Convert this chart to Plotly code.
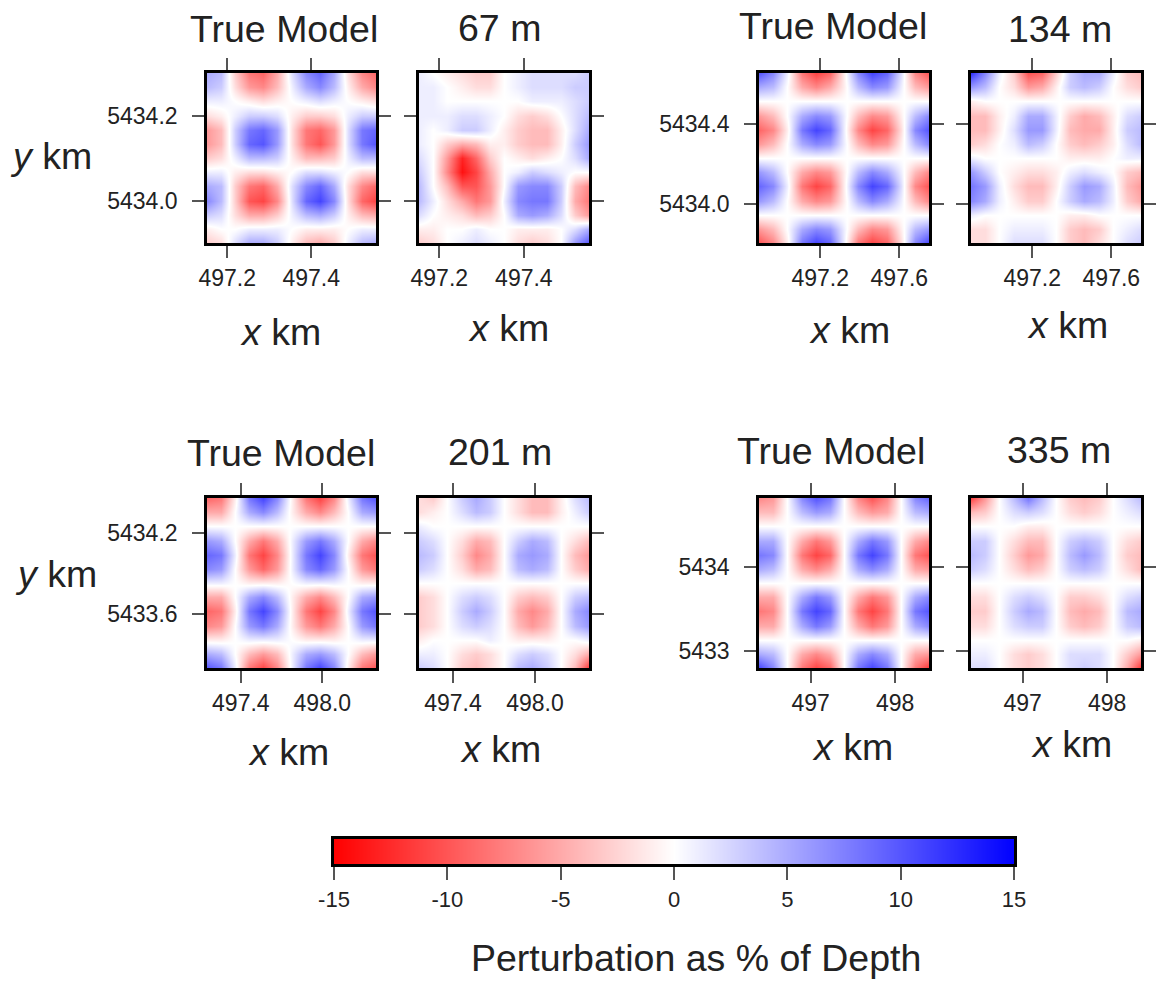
import numpy as np
import plotly.graph_objects as go

W, H = 1157, 981
FONT = "Liberation Sans, Arial, Helvetica, sans-serif"
TXT = "#222222"

# Values are % perturbation (blue positive, red negative), top row first.
true_67 = [
 [5,4,-3,-8,-9,-5,2,7,9,5,-2,-7,-9],
 [4,3,-2,-6,-7,-4,1,5,7,4,-1,-5,-7],
 [1,1,0,-1,-2,-1,0,1,2,1,0,-1,-2],
 [-2,-1,1,3,3,2,-1,-3,-3,-2,1,3,3],
 [-6,-4,3,8,9,6,-2,-8,-9,-6,2,8,9],
 [-6,-4,3,9,10,6,-2,-8,-10,-6,2,8,10],
 [-3,-2,1,4,4,3,-1,-4,-4,-3,1,4,4],
 [1,1,-1,-2,-2,-1,0,2,2,1,0,-2,-2],
 [5,4,-3,-8,-9,-5,2,7,9,5,-2,-7,-9],
 [7,4,-3,-10,-11,-7,2,9,11,7,-2,-9,-11],
 [3,2,-2,-5,-5,-3,1,4,5,3,-1,-4,-5],
 [-1,0,0,1,1,1,0,-1,-1,-1,0,1,1],
 [-3,-2,2,5,5,3,-1,-4,-5,-3,1,4,5],
]
est_67 = [
 [1,0,-1,-2,-3,-3,0,1,2,2,2,2,3],
 [1,1,0,-1,-2,-2,0,1,2,2,2,3,3],
 [1,1,0,0,0,0,0,0,1,1,1,2,3],
 [1,1,1,2,2,1,0,-2,-3,-2,0,2,4],
 [1,0,1,3,3,1,-1,-3,-4,-4,-1,2,5],
 [1,0,-3,-5,-4,-1,-1,-3,-4,-4,-1,3,6],
 [2,0,-6,-13,-9,-3,0,-1,-2,-1,0,2,5],
 [3,0,-7,-14,-11,-5,0,1,3,2,1,0,0],
 [4,0,-4,-10,-10,-6,0,6,7,7,3,-4,-7],
 [4,1,-2,-5,-8,-6,1,7,8,8,3,-5,-8],
 [2,0,-1,-2,-4,-3,0,5,6,5,2,-3,-6],
 [-1,-1,0,0,1,0,0,-1,-1,-1,0,2,5],
 [-3,-2,0,1,2,1,0,-2,-3,-2,0,6,10],
]
true_134 = [
 [10,7,1,-8,-11,-9,-1,7,11,9,2,-7,-10],
 [5,4,0,-5,-7,-5,-1,4,7,6,1,-4,-6],
 [0,0,0,0,0,0,0,0,0,0,0,0,0],
 [-6,-4,0,5,7,6,1,-4,-7,-6,-1,4,7],
 [-9,-7,-1,8,11,9,1,-7,-11,-9,-2,7,10],
 [-6,-4,0,5,7,6,1,-4,-7,-6,-1,4,7],
 [0,0,0,0,0,0,0,0,0,0,0,0,0],
 [6,4,0,-5,-7,-6,-1,4,7,5,1,-4,-7],
 [9,7,1,-8,-11,-9,-1,7,11,9,2,-7,-10],
 [6,4,0,-5,-7,-6,-1,4,7,5,1,-4,-7],
 [0,0,0,0,0,0,0,0,0,0,0,0,0],
 [-6,-4,0,5,7,6,1,-4,-7,-6,-1,4,6],
 [-10,-7,-1,8,11,9,1,-8,-11,-9,-2,7,11],
]
est_134 = [
 [12,7,1,-3,-10,-9,-3,3,5,5,1,-3,-4],
 [6,4,0,-2,-6,-5,-1,3,4,3,0,-2,-3],
 [-1,0,0,0,0,0,0,0,0,0,0,0,0],
 [-4,-4,-1,1,5,5,1,-3,-5,-4,-1,2,3],
 [-4,-4,-1,2,6,6,1,-4,-5,-5,-1,3,4],
 [-3,-2,0,1,4,3,0,-3,-4,-3,-1,2,4],
 [1,0,0,0,0,0,0,-1,-1,-1,0,1,1],
 [6,3,0,-1,-2,-2,-1,1,2,1,0,-3,-4],
 [8,6,1,-2,-4,-4,-1,3,6,5,1,-4,-6],
 [7,5,1,-1,-3,-3,0,3,5,4,1,-3,-5],
 [1,0,0,0,0,0,0,-1,-1,0,0,0,0],
 [-2,-2,0,1,1,1,0,-3,-4,-3,0,1,2],
 [-2,-2,0,2,2,2,0,-3,-4,-2,0,2,3],
]
true_201 = [
 [-9,-8,-1,8,11,7,-1,-8,-11,-7,1,8,10],
 [-5,-5,0,5,7,4,-1,-5,-7,-4,0,5,6],
 [0,0,0,0,0,0,0,0,0,0,0,0,0],
 [6,5,0,-5,-8,-5,1,6,8,5,0,-5,-7],
 [9,8,1,-8,-11,-7,1,8,11,7,-1,-8,-10],
 [7,6,0,-6,-9,-6,1,7,9,6,0,-6,-8],
 [1,1,0,-1,-1,-1,0,1,1,1,0,-1,-1],
 [-5,-5,0,5,7,4,-1,-5,-7,-4,0,5,6],
 [-9,-8,-1,8,11,7,-1,-8,-11,-7,1,8,10],
 [-7,-6,0,6,8,5,-1,-6,-8,-5,0,6,8],
 [-1,-1,0,1,1,1,0,-1,-1,-1,0,1,1],
 [5,4,0,-4,-6,-4,1,5,6,4,0,-4,-6],
 [10,8,1,-8,-11,-7,1,8,11,7,-1,-8,-10],
]
est_201 = [
 [-2,-3,0,3,5,3,0,-2,-4,-4,-1,2,4],
 [-2,-1,0,2,4,3,0,-2,-4,-4,-1,1,3],
 [1,0,0,0,0,0,0,0,0,0,0,0,0],
 [3,2,0,-2,-5,-4,0,3,5,4,0,-2,-4],
 [4,3,0,-3,-7,-5,0,5,6,5,0,-4,-6],
 [3,2,0,-2,-5,-4,0,4,5,4,0,-3,-5],
 [0,0,0,0,0,0,0,0,0,0,0,0,0],
 [-3,-2,0,2,3,2,0,-3,-4,-3,0,3,4],
 [-3,-2,0,3,5,3,0,-5,-7,-5,0,5,7],
 [-3,-2,0,2,3,2,0,-4,-6,-4,0,4,6],
 [-1,0,0,0,0,1,0,-1,-1,-1,0,0,1],
 [1,1,0,-2,-3,-2,0,2,3,2,0,-2,-5],
 [3,2,0,-3,-4,-2,0,4,5,3,0,-4,-12],
]
true_335 = [
 [-7,-6,0,7,10,8,0,-7,-10,-7,0,7,9],
 [-4,-4,0,4,6,5,0,-4,-6,-5,0,4,5],
 [0,0,0,0,0,0,0,0,0,0,0,0,0],
 [5,5,0,-5,-8,-6,0,5,8,6,0,-5,-7],
 [8,7,0,-8,-11,-9,0,8,11,8,0,-8,-10],
 [5,4,0,-5,-7,-5,0,5,7,5,0,-5,-6],
 [0,0,0,0,0,0,0,0,0,0,0,0,0],
 [-5,-5,0,5,8,6,0,-5,-8,-6,0,5,7],
 [-8,-7,0,8,11,9,0,-8,-11,-8,0,8,10],
 [-5,-5,0,5,8,6,0,-5,-8,-6,0,5,7],
 [0,0,0,0,0,0,0,0,0,0,0,0,0],
 [5,4,0,-5,-7,-5,0,5,7,5,0,-5,-6],
 [11,7,0,-8,-11,-9,0,8,11,8,0,-8,-12],
]
est_335 = [
 [-11,-6,0,4,8,4,0,-3,-4,-3,0,2,4],
 [-4,-3,0,2,3,2,0,-2,-3,-2,0,1,2],
 [0,0,0,0,-1,-1,0,0,0,0,0,0,0],
 [3,3,0,-2,-4,-4,0,3,4,3,0,-2,-3],
 [4,3,0,-3,-6,-5,0,4,6,4,0,-3,-4],
 [3,2,0,-2,-4,-3,0,3,4,3,0,-2,-4],
 [0,0,0,0,0,0,0,0,0,0,0,0,0],
 [-2,-2,0,2,3,2,0,-3,-3,-2,0,2,3],
 [-3,-3,0,3,5,4,0,-4,-5,-4,0,4,5],
 [-2,-2,0,2,3,3,0,-3,-4,-3,0,3,4],
 [0,0,0,0,0,0,0,0,0,0,0,0,-1],
 [1,1,0,-2,-3,-2,0,2,2,2,0,-3,-6],
 [2,2,0,-2,-3,-2,0,2,3,2,0,-5,-12],
]

colorbar_ticks = [-15, -10, -5, 0, 5, 10, 15]
titles = ["True Model", "67 m", "True Model", "134 m", "True Model", "201 m", "True Model", "335 m"]

# z, x range, y range, x ticks, y ticks, y tick labels shown?, box in pixels (l, r, t, b)
panels = [
 (true_67,  (497.152,497.554),(5433.9, 5434.3),   ["497.2","497.4"], ["5434.0","5434.2"], True,  (207,376,73,243)),
 (est_67,   (497.152,497.554),(5433.9, 5434.3),   ["497.2","497.4"], ["5434.0","5434.2"], False, (419,589,73,243)),
 (true_134, (496.89, 497.75), (5433.805,5434.655),["497.2","497.6"], ["5434.0","5434.4"], True,  (759,929,73,243)),
 (est_134,  (496.89, 497.75), (5433.805,5434.655),["497.2","497.6"], ["5434.0","5434.4"], False, (971,1141,73,243)),
 (true_201, (497.151,498.395),(5433.205,5434.456),["497.4","498.0"], ["5433.6","5434.2"], True,  (207,376,498,668)),
 (est_201,  (497.151,498.395),(5433.205,5434.456),["497.4","498.0"], ["5433.6","5434.2"], False, (419,589,498,668)),
 (true_335, (496.388,498.4),  (5432.8,5434.812),  ["497","498"],     ["5433","5434"],     True,  (759,929,498,668)),
 (est_335,  (496.388,498.4),  (5432.8,5434.812),  ["497","498"],     ["5433","5434"],     False, (971,1141,498,668)),
]

title_pos = [(284,29),(499,28),(833,26),(1060,29),(281,453),(500,452),(831,451),(1059,450)]
xlabel_pos = [(280,332),(508,328),(849,330),(1067,325),(288,752),(500,749),(852,747),(1071,744)]
ylabel_pos = [(51,156),(56,574)]

fig = go.Figure()
layout = dict(
    width=W, height=H, margin=dict(l=0, r=0, t=0, b=0),
    paper_bgcolor="white", plot_bgcolor="white", showlegend=False,
    font=dict(family=FONT, color=TXT),
    coloraxis=dict(
        cmin=-15, cmax=15, showscale=False,
        colorscale=[[0, "#ff0000"], [0.5, "#ffffff"], [1, "#0000ff"]],
    ),
)

common = dict(automargin=False, showgrid=False, zeroline=False, showline=True, linecolor="black",
              linewidth=2.6, ticks="outside", ticklen=12,
              tickwidth=1.5, tickcolor="#555555",
              tickfont=dict(size=23, family=FONT, color=TXT), tickmode="array")

for i, (z, xr, yr, xt, yt, showy, box) in enumerate(panels, start=1):
    n = len(z)
    xs = np.linspace(xr[0], xr[1], len(z[0]))
    ys = np.linspace(yr[1], yr[0], n)
    l, r, t, b = box
    fig.add_trace(go.Heatmap(z=z, x=xs, y=ys, coloraxis="coloraxis", zsmooth="best",
                             xaxis=f"x{i}", yaxis=f"y{i}", hoverinfo="skip"))
    layout[f"xaxis{i}"] = dict(domain=[l/W, r/W], range=list(xr), anchor=f"y{i}", mirror="ticks",
                               tickvals=[float(v) for v in xt], ticktext=xt,
                               ticklabelstandoff=1, **common)
    layout[f"yaxis{i}"] = dict(domain=[1-b/H, 1-t/H], range=list(yr), anchor=f"x{i}", mirror="ticks",
                               tickvals=[float(v) for v in yt], ticktext=yt,
                               showticklabels=showy, ticklabelstandoff=10, **common)

# colour key, drawn as a heatmap over the -15..15 scale
fig.add_trace(go.Heatmap(z=[colorbar_ticks, colorbar_ticks], x=colorbar_ticks, y=[0, 1],
                         coloraxis="coloraxis", zsmooth="best",
                         xaxis="x9", yaxis="y9", hoverinfo="skip"))
layout["xaxis9"] = dict(domain=[334/W, 1014/W], range=[-15, 15], anchor="y9", mirror=True,
                        tickvals=colorbar_ticks, ticktext=[str(t) for t in colorbar_ticks],
                        ticklabelstandoff=1, **{**common, "ticklen": 13, "tickfont": dict(size=22, family=FONT, color=TXT)})
layout["yaxis9"] = dict(domain=[1-864/H, 1-839/H], range=[0, 1], anchor="x9", mirror=True, automargin=False,
                        showgrid=False, zeroline=False, showline=True, linecolor="black",
                        linewidth=2.6, ticks="", showticklabels=False)

ann = []
def label(text, pos, size=37.5):
    ann.append(dict(text=text, x=pos[0]/W, y=1-pos[1]/H, xref="paper", yref="paper",
                    xanchor="center", yanchor="middle", showarrow=False,
                    font=dict(size=size, family=FONT, color=TXT)))
for txt, p in zip(titles, title_pos):
    label(txt, p)
for p in xlabel_pos:
    label("<i>x</i> km", p)
for p in ylabel_pos:
    label("<i>y</i> km", p)
label("Perturbation as % of Depth", (696, 958))
layout["annotations"] = ann

fig.update_layout(**layout)
fig.write_html("out.html", config={"displayModeBar": False},
               post_script="document.body.style.margin='0';document.body.style.overflow='hidden';")
